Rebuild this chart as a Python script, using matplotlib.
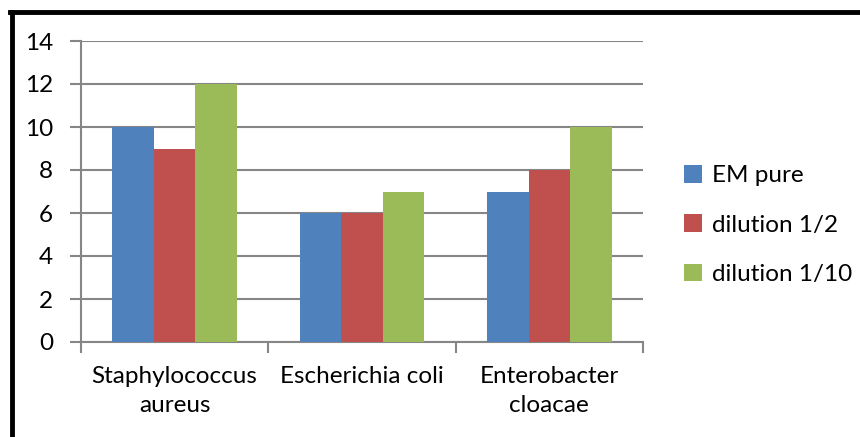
import matplotlib
matplotlib.use("Agg")
import matplotlib.pyplot as plt
from matplotlib.lines import Line2D
import numpy as np

categories = ["Staphylococcus\naureus", "Escherichia coli", "Enterobacter\ncloacae"]
series_names = ["EM pure", "dilution 1/2", "dilution 1/10"]
em_pure = [10, 6, 7]
dilution_half = [9, 6, 8]
dilution_tenth = [12, 7, 10]
colors = ["#4F81BD", "#C0504D", "#9BBB59"]

plt.rcParams["font.family"] = ["Lato", "DejaVu Sans"]
FS = 17.5

fig = plt.figure(figsize=(8.6, 4.37), dpi=100)
ax = fig.add_axes([81 / 860, 1 - 342 / 437, (643 - 81) / 860, (342 - 41) / 437])

x = np.arange(len(categories))
width = 1 / 4.5
for i, (vals, name) in enumerate(zip([em_pure, dilution_half, dilution_tenth], series_names)):
    ax.bar(x + (i - 1) * width, vals, width, color=colors[i], label=name, zorder=3)

ax.set_xlim(-0.5, len(categories) - 0.5)
ax.set_ylim(0, 14)
ax.set_yticks(range(0, 15, 2))
ax.grid(axis="y", color="#868686", linewidth=1.5, zorder=0)
for s in ["top", "right"]:
    ax.spines[s].set_visible(False)
for s in ["left", "bottom"]:
    ax.spines[s].set_color("#868686")
    ax.spines[s].set_linewidth(1.5)

ax.set_xticks(np.arange(-0.5, len(categories)), minor=True)
ax.set_xticks(x)
ax.set_xticklabels(categories, fontsize=FS, linespacing=1.5)
ax.tick_params(axis="x", which="major", length=0, pad=17)
ax.tick_params(axis="x", which="minor", length=8, width=1.5, color="#868686")
ax.tick_params(axis="y", length=8, width=1.5, color="#868686", labelsize=FS, pad=12)

fig.legend(loc="center left", bbox_to_anchor=(662 / 860, 1 - 225 / 437),
           frameon=False, fontsize=FS, handlelength=0.75, handleheight=0.75,
           handletextpad=0.4, labelspacing=1.15)

# outer chart border (right and bottom edges are cut off)
fig.add_artist(Line2D([12 / 860, 12 / 860], [0, 1 - 12 / 437], color="black",
                      linewidth=3.5, transform=fig.transFigure))
fig.add_artist(Line2D([10 / 860, 1], [1 - 12 / 437, 1 - 12 / 437], color="black",
                      linewidth=3.5, transform=fig.transFigure))

fig.savefig("out.png", dpi=100)
